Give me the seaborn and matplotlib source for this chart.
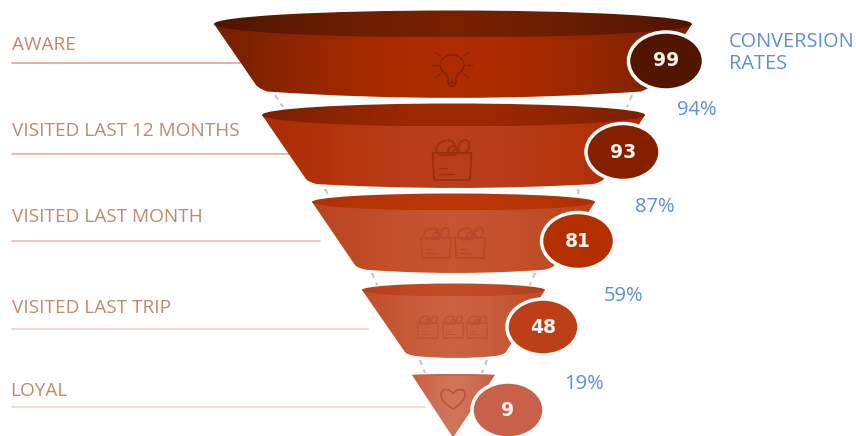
import matplotlib
matplotlib.use("Agg")
import matplotlib.pyplot as plt
import numpy as np
import seaborn as sns
from matplotlib.patches import Circle, Ellipse, PathPatch, Arc
from matplotlib.path import Path

sns.set_theme(style="white")
plt.rcParams["font.family"] = ["Open Sans", "DejaVu Sans"]

# Funnel content
stages = ["AWARE", "VISITED LAST 12 MONTHS", "VISITED LAST MONTH", "VISITED LAST TRIP", "LOYAL"]
values = [99, 93, 81, 48, 9]
conversion_rates = ["94%", "87%", "59%", "19%"]

# Tier outlines in figure pixels: left tip, right tip, top y, rim half height,
# lower-left x, lower-right x, lower y, bottom sag
TIERS = [
    (214, 692, 24, 13.5, 258, 650, 88, 10),
    (262, 645, 115, 11.5, 308, 602, 182, 6),
    (312, 595, 202, 8.5, 357, 553, 268, 5),
    (362, 545, 290, 6.5, 407, 504, 355, 3),
    (412, 495, 375, 1.0, 452, 454, 436, 0),
]
BODY = [("#762000", "#ae2c00"), ("#ad2b00", "#b93e1a"), ("#bb4420", "#c4552f"),
        ("#c24e2a", "#ca6140"), ("#cb5e40", "#d0745a")]
RIM = [("#4f1500", "#762000"), ("#7a2000", "#9c2800"), ("#b03000", "#bb3608"),
       ("#b93f1a", "#c24a24"), ("#cb5e40", "#cd6446")]
BADGE_XY = [(666, 61), (623, 152), (578, 241), (543, 327), (508, 410)]
BADGE_SIZE = [(75, 58), (74, 57), (73, 57), (72, 56), (72, 56)]
BADGE = ["#521500", "#841f00", "#b42f00", "#bd3f18", "#c9604a"]
ICON = ["#7a2408", "#9a2e0e", "#b5482a", "#bc5233", "#bb5038"]
LABEL_Y = [44.5, 130.5, 216.5, 307.5, 390.5]
RULE = [(63, 240, "#e2a48e"), (154, 290, "#e6ac98"), (241, 320, "#edbfae"),
        (329, 368, "#f1cfc2"), (407, 425, "#f3d6ca")]
RATE_XY = [(677, 109.5), (635, 206.5), (604, 295.5), (564, 383.5)]
# Dashed connector ends: (left top x, left bottom x, right top x, right bottom x, top y, bottom y)
LINKS = [
    (275, 283, 632, 627, 95, 107),
    (325, 329, 578, 579, 189, 197),
    (372, 377, 535, 530, 273, 285),
    (420, 425, 487, 482, 360, 373),
]
TEXT_BROWN = "#c08a6a"
TEXT_BLUE = "#5b8fd6"

fig, ax = plt.subplots(figsize=(8.56, 4.36), dpi=100)
fig.subplots_adjust(0, 0, 1, 1)
ax.set_axis_off()


def gradient_fill(patch, x0, x1, y0, y1, edge, centre, z):
    ax.add_patch(patch)
    patch.set(facecolor="none", edgecolor="none", zorder=z)
    cmap = sns.blend_palette([edge, centre], 256, as_cmap=True)
    # Dark toward both ends and brightest through the middle of the tier
    shade = np.sin(np.linspace(0, np.pi, 512)) ** 1.2
    img = ax.imshow(shade[None, :], cmap=cmap, vmin=0, vmax=1, aspect="auto",
                    extent=(x0, x1, y1, y0), zorder=z, interpolation="bilinear")
    img.set_clip_path(patch)


def tier_path(l, r, y, lx, rx, ly, sag):
    # Straight sides ending in short rounded corners, with a shallow curved base
    if sag == 0:
        return Path([(l, y), (lx, ly), (rx, ly), (r, y), (l, y)],
                    [Path.MOVETO, Path.LINETO, Path.LINETO, Path.LINETO, Path.CLOSEPOLY])
    t = 0.95
    p_left = (l + (lx - l) * t, y + (ly - y) * t)
    p_right = (r + (rx - r) * t, y + (ly - y) * t)
    a = (lx + 9, ly + sag * 0.35)
    b = (rx - 9, ly + sag * 0.35)
    span = (b[0] - a[0]) / 3
    bulge = ly + sag * 1.2
    verts = [(l, y), p_left, (lx, ly), a, (a[0] + span, bulge), (b[0] - span, bulge), b,
             (rx, ly), p_right, (r, y), (l, y)]
    codes = [Path.MOVETO, Path.LINETO, Path.CURVE3, Path.CURVE3, Path.CURVE4, Path.CURVE4, Path.CURVE4,
             Path.CURVE3, Path.CURVE3, Path.LINETO, Path.CLOSEPOLY]
    return Path(verts, codes)


def bulb(cx, cy, color):
    kw = dict(color=color, lw=1.0, zorder=6)
    ax.add_patch(Arc((cx, cy - 1), 24, 20, theta1=125, theta2=415,
                     edgecolor=color, lw=1.0, zorder=6))
    ax.plot([cx - 7, cx - 4, cx - 4, cx + 4, cx + 4, cx + 7],
            [cy + 7, cy + 11, cy + 17, cy + 17, cy + 11, cy + 7], **kw)
    ax.add_patch(Arc((cx, cy + 17), 8, 6, theta1=0, theta2=180, edgecolor=color, lw=1.0, zorder=6))
    for a, ra in zip(np.deg2rad([180, 220, 270, 320, 0, 140, 40]), [15, 16, 14, 16, 15, 16, 16]):
        ax.plot([cx + ra * np.cos(a), cx + (ra + 5) * np.cos(a)],
                [cy - 1 - (ra - 1) * np.sin(a), cy - 1 - (ra + 3) * np.sin(a)], **kw)


def bag(cx, top, w, h, color, lw=1.2):
    kw = dict(fc="none", ec=color, lw=lw, zorder=6)
    # Carrier body, tapering slightly toward the base
    body = [(cx - w / 2, top + 0.32 * h), (cx - w * 0.46, top + h), (cx + w * 0.46, top + h),
            (cx + w / 2, top + 0.32 * h), (cx - w / 2, top + 0.32 * h)]
    ax.add_patch(PathPatch(Path(body, [Path.MOVETO] + [Path.LINETO] * 3 + [Path.CLOSEPOLY]), **kw))
    ax.add_patch(Ellipse((cx - w * 0.16, top + 0.2 * h), w * 0.5, h * 0.36, angle=-20, **kw))
    ax.add_patch(Circle((cx + w * 0.02, top + 0.27 * h), w * 0.12, **kw))
    ax.add_patch(Ellipse((cx + w * 0.3, top + 0.17 * h), w * 0.26, h * 0.36, angle=20, **kw))
    ax.plot([cx - w * 0.34, cx - w * 0.14], [top + 0.7 * h] * 2, color=color, lw=lw * 0.7, zorder=6)
    ax.plot([cx - w * 0.34, cx + w * 0.05], [top + 0.84 * h] * 2, color=color, lw=lw * 0.7, zorder=6)


def heart(cx, cy, w, color):
    s = w / 2
    verts = [(cx, cy + 0.8 * s),
             (cx - 1.3 * s, cy + 0.05 * s), (cx - 1.1 * s, cy - 0.85 * s), (cx - 0.5 * s, cy - 0.75 * s),
             (cx - 0.2 * s, cy - 0.72 * s), (cx - 0.05 * s, cy - 0.5 * s), (cx, cy - 0.4 * s),
             (cx + 0.05 * s, cy - 0.5 * s), (cx + 0.2 * s, cy - 0.72 * s), (cx + 0.5 * s, cy - 0.75 * s),
             (cx + 1.1 * s, cy - 0.85 * s), (cx + 1.3 * s, cy + 0.05 * s), (cx, cy + 0.8 * s)]
    codes = [Path.MOVETO] + [Path.CURVE4] * 12
    ax.add_patch(PathPatch(Path(verts, codes), fc="none", ec=color, lw=1.1, zorder=6))


# Dashed links between consecutive tiers
for lt, lb, rt, rb, y0, y1 in LINKS:
    for top_x, bottom_x in ((lt, lb), (rt, rb)):
        ax.plot([top_x, bottom_x], [y0, y1], color="#c4c4c4", lw=1.5,
                ls=(0, (2.5, 2.5)), zorder=1)

# Tier bodies, rims, and value badges
for i, (l, r, y, h, lx, rx, ly, sag) in enumerate(TIERS):
    gradient_fill(PathPatch(tier_path(l, r, y, lx, rx, ly, sag)), l, r, y - h, ly + sag + 1,
                  *BODY[i], 2 + i * 0.01)
    gradient_fill(Ellipse(((l + r) / 2, y), r - l, 2 * h), l, r, y - h, y + h, *RIM[i], 3 + i * 0.01)

    bx, by = BADGE_XY[i]
    width, height = BADGE_SIZE[i]
    ax.add_patch(Ellipse((bx, by), width, height, fc=BADGE[i], ec="white", lw=2.5, zorder=7))
    ax.text(bx, by, str(values[i]), color="#fbf4f0", family="DejaVu Sans", fontweight="bold",
            fontsize=13.5, ha="center", va="center", zorder=8)

    rule_y, rule_end, rule_color = RULE[i]
    ax.plot([12, rule_end], [rule_y, rule_y], color=rule_color, lw=1.2, zorder=1)
    ax.text(10 if i == 4 else 12, LABEL_Y[i], stages[i], color=TEXT_BROWN, fontsize=13.7,
            ha="left", va="center")

# Pictograms on the tiers
bulb(452, 66, ICON[0])
bag(452, 140, 39, 40, ICON[1])
for cx in (436, 470):
    bag(cx, 228, 30, 30, ICON[2], 1.1)
for cx in (428, 453, 477):
    bag(cx, 316, 21, 22, ICON[3], 1.0)
heart(453, 399, 25, ICON[4])

# Conversion rates
for (x, y), rate in zip(RATE_XY, conversion_rates):
    ax.text(x, y, rate, color=TEXT_BLUE, fontsize=14.5, ha="left", va="center")
ax.text(729, 42, "CONVERSION", color=TEXT_BLUE, fontsize=14.3, ha="left", va="center")
ax.text(729, 64, "RATES", color=TEXT_BLUE, fontsize=14.3, ha="left", va="center")

ax.set_xlim(0, 856)
ax.set_ylim(436, 0)
fig.savefig("out.png", dpi=100, facecolor="white")
